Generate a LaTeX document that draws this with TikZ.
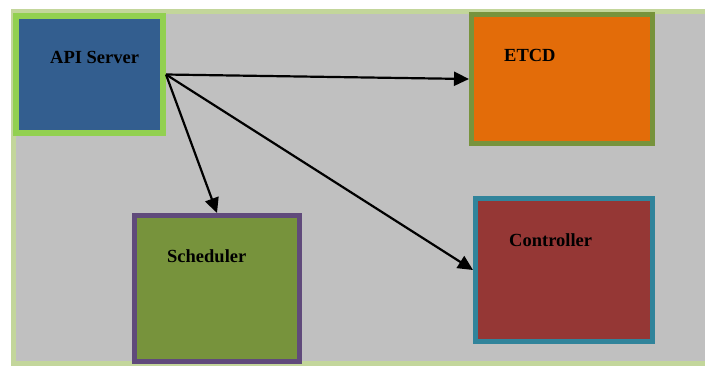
\documentclass[tikz,border=0pt]{standalone}
\usepackage{fontspec}
\setmainfont{Liberation Serif}
\usetikzlibrary{arrows.meta}

\definecolor{fond}{HTML}{C0C0C0}
\definecolor{cadre}{HTML}{C3D69B}
\definecolor{bleu}{HTML}{335E8F}
\definecolor{vertclair}{HTML}{92D050}
\definecolor{orange}{HTML}{E36C09}
\definecolor{olive}{HTML}{77933C}
\definecolor{violet}{HTML}{604A7B}
\definecolor{brique}{HTML}{953735}
\definecolor{bleucanard}{HTML}{31849B}

\begin{document}
\begin{tikzpicture}[x=1pt,y=-1pt,font=\bfseries\fontsize{18.5}{22}\selectfont,
    boite/.style={draw,line width=5pt,inner sep=0pt},
    titre/.style={anchor=base west,inner sep=0pt},
    fleche/.style={line width=2.2pt,-{Triangle[length=15pt,width=14pt]}}]
    \useasboundingbox (0,0) rectangle (705,368);
    % fond
    \draw[line width=5pt,draw=cadre,fill=fond] (13.5,11.5) rectangle (712,363.5);
    % boites
    \node[boite,line width=6pt,draw=vertclair,fill=bleu,minimum width=147,minimum height=117] (api) at (89.5,74.5) {};
    \node[boite,draw=olive,fill=orange,minimum width=181,minimum height=129] (etcd) at (562,79) {};
    \node[boite,draw=violet,fill=olive,minimum width=165,minimum height=146] (sched) at (217,288.5) {};
    \node[boite,draw=bleucanard,fill=brique,minimum width=177,minimum height=143] (ctrl) at (564,270) {};
    % textes
    \node[titre] (apit) at (50,63) {API Server};
    \node[titre] (etcdt) at (504,61) {ETCD};
    \node[titre] (schedt) at (167,262) {Scheduler};
    \node[titre] (ctrlt) at (509,246) {Controller};
    % fleches
    \draw[fleche] (api.east) -- (etcd.west);
    \draw[fleche] (api.east) -- (sched.north);
    \draw[fleche] (api.east) -- (ctrl.west);
\end{tikzpicture}
\end{document}
